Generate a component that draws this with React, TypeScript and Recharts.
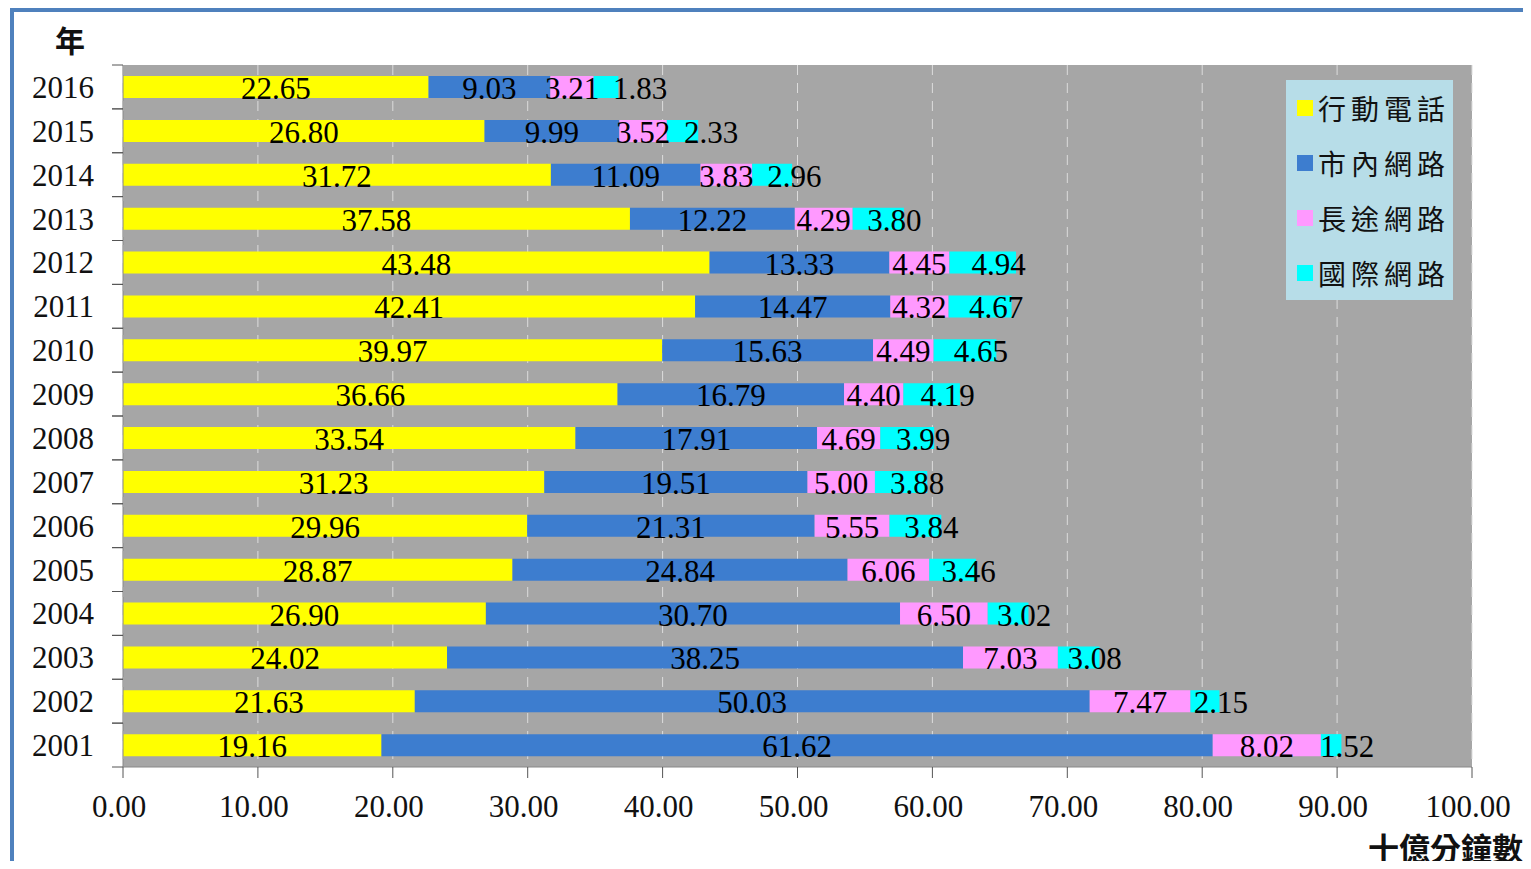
import React from "react";
import {
  Bar,
  BarChart,
  CartesianGrid,
  LabelList,
  XAxis,
  YAxis,
} from "recharts";

// 上から下の順 (2016 → 2001)
const YEARS = [
  "2016", "2015", "2014", "2013", "2012", "2011", "2010", "2009",
  "2008", "2007", "2006", "2005", "2004", "2003", "2002", "2001",
];
const MOBILE = [
  22.65, 26.8, 31.72, 37.58, 43.48, 42.41, 39.97, 36.66,
  33.54, 31.23, 29.96, 28.87, 26.9, 24.02, 21.63, 19.16,
];
const LOCAL = [
  9.03, 9.99, 11.09, 12.22, 13.33, 14.47, 15.63, 16.79,
  17.91, 19.51, 21.31, 24.84, 30.7, 38.25, 50.03, 61.62,
];
const LONG_DISTANCE = [
  3.21, 3.52, 3.83, 4.29, 4.45, 4.32, 4.49, 4.4,
  4.69, 5.0, 5.55, 6.06, 6.5, 7.03, 7.47, 8.02,
];
const INTERNATIONAL = [
  1.83, 2.33, 2.96, 3.8, 4.94, 4.67, 4.65, 4.19,
  3.99, 3.88, 3.84, 3.46, 3.02, 3.08, 2.15, 1.52,
];
const X_TICKS = [0, 10, 20, 30, 40, 50, 60, 70, 80, 90, 100];

const SERIES = [
  { key: "mobile", name: "行動電話", color: "#ffff00" },
  { key: "local", name: "市內網路", color: "#3d7dcf" },
  { key: "longDistance", name: "長途網路", color: "#ff99ff" },
  { key: "international", name: "國際網路", color: "#00ffff" },
];

const data = YEARS.map((year, i) => ({
  year,
  mobile: MOBILE[i],
  local: LOCAL[i],
  longDistance: LONG_DISTANCE[i],
  international: INTERNATIONAL[i],
}));

const W = 1531;
const H = 869;
const MARGIN = { top: 65, right: 59, bottom: 42, left: 0 };
const X_AXIS_H = 60;
const PLOT_H = H - MARGIN.top - MARGIN.bottom - X_AXIS_H;
const BAND = PLOT_H / YEARS.length;
const SERIF = "'Liberation Serif', 'Times New Roman', serif";
const CJK = "'Noto Sans CJK TC', 'Noto Sans CJK JP', sans-serif";

function YearTick(props: any) {
  const { y, payload } = props;
  const axisX = 123;
  return (
    <g>
      <line x1={axisX - 11} x2={axisX} y1={y - BAND / 2} y2={y - BAND / 2} stroke="#555" />
      <line x1={axisX - 11} x2={axisX} y1={y + BAND / 2} y2={y + BAND / 2} stroke="#555" />
      <text
        x={94}
        y={y + 11}
        textAnchor="end"
        fontSize={31}
        fontFamily={SERIF}
        fill="#111"
      >
        {payload.value}
      </text>
    </g>
  );
}

// 國際網路のラベルは長途網路のラベルと重ならないよう右へ寄せる
const renderLabel = (seriesKey: string) => (props: any) => {
  const vb = props.viewBox ?? props;
  const { x, y, width, height } = vb;
  let cx = x + width / 2;
  if (seriesKey === "international") {
    const i = props.index ?? 0;
    const unit = INTERNATIONAL[i] ? width / INTERNATIONAL[i] : 0;
    const prevCenter = x - (LONG_DISTANCE[i] * unit) / 2;
    cx = Math.max(cx + 16, prevCenter + 68);
  }
  return (
    <text
      x={cx}
      y={y + height / 2 + 12}
      textAnchor="middle"
      fontSize={31}
      fontFamily={SERIF}
      fill="#000"
    >
      {Number(props.value).toFixed(2)}
    </text>
  );
};

function LegendBox() {
  return (
    <div
      style={{
        position: "absolute",
        left: 1286,
        top: 80,
        width: 167,
        height: 220,
        background: "#b7dde8",
        display: "flex",
        flexDirection: "column",
      }}
    >
      {SERIES.map((s) => (
        <div
          key={s.key}
          style={{ height: 55, display: "flex", alignItems: "center" }}
        >
          <span
            style={{
              width: 16,
              height: 16,
              marginLeft: 11,
              marginRight: 5,
              background: s.color,
              display: "inline-block",
            }}
          />
          <span
            style={{
              fontFamily: CJK,
              fontSize: 28,
              letterSpacing: 5,
              color: "#111",
              lineHeight: 1,
            }}
          >
            {s.name}
          </span>
        </div>
      ))}
    </div>
  );
}

export default function App() {
  return (
    <div
      style={{
        position: "relative",
        width: W,
        height: H,
        margin: -8,
        background: "#fff",
        overflow: "hidden",
      }}
    >
      <div
        style={{
          position: "absolute",
          left: 22,
          top: 0,
          width: W - 22,
          height: 8,
          background: "linear-gradient(#8c8c8c, #aaaaaa)",
        }}
      />
      <div
        style={{
          position: "absolute",
          left: 10,
          top: 8,
          width: W - 10,
          height: 4,
          background: "#4f81bd",
        }}
      />
      <div
        style={{
          position: "absolute",
          left: 10,
          top: 8,
          width: 4,
          height: H - 8,
          background: "#4f81bd",
        }}
      />
      <div
        style={{
          position: "absolute",
          left: 55,
          top: 24,
          fontFamily: CJK,
          fontWeight: 700,
          fontSize: 30,
          lineHeight: 1,
          color: "#111",
        }}
      >
        年
      </div>
      <div
        style={{
          position: "absolute",
          left: 1368,
          top: 831,
          fontFamily: CJK,
          fontWeight: 700,
          fontSize: 31,
          lineHeight: 1,
          color: "#111",
          whiteSpace: "nowrap",
        }}
      >
        十億分鐘數
      </div>
      <div style={{ position: "absolute", left: 0, top: 0 }}>
        <BarChart
          width={W}
          height={H}
          layout="vertical"
          data={data}
          margin={MARGIN}
          barSize={22}
        >
          <CartesianGrid
            horizontal={false}
            fill="#a6a6a6"
            fillOpacity={1}
            stroke="#dcdcdc"
            strokeDasharray="10 8"
          />
          <XAxis
            type="number"
            domain={[0, 100]}
            ticks={X_TICKS}
            height={X_AXIS_H}
            tickSize={11}
            tickMargin={17}
            tickFormatter={(v) => Number(v).toFixed(2)}
            axisLine={{ stroke: "#888" }}
            tickLine={{ stroke: "#555" }}
            tick={{ fontSize: 31, fontFamily: SERIF, fill: "#111", dx: -4 }}
            interval={0}
          />
          <YAxis
            type="category"
            dataKey="year"
            width={123}
            axisLine={{ stroke: "#888" }}
            tickLine={false}
            tick={<YearTick />}
            interval={0}
          />
          {SERIES.map((s) => (
            <Bar
              key={s.key}
              dataKey={s.key}
              name={s.name}
              stackId="minutes"
              fill={s.color}
              isAnimationActive={false}
            >
              <LabelList dataKey={s.key} content={renderLabel(s.key)} />
            </Bar>
          ))}
        </BarChart>
      </div>
      <LegendBox />
    </div>
  );
}
